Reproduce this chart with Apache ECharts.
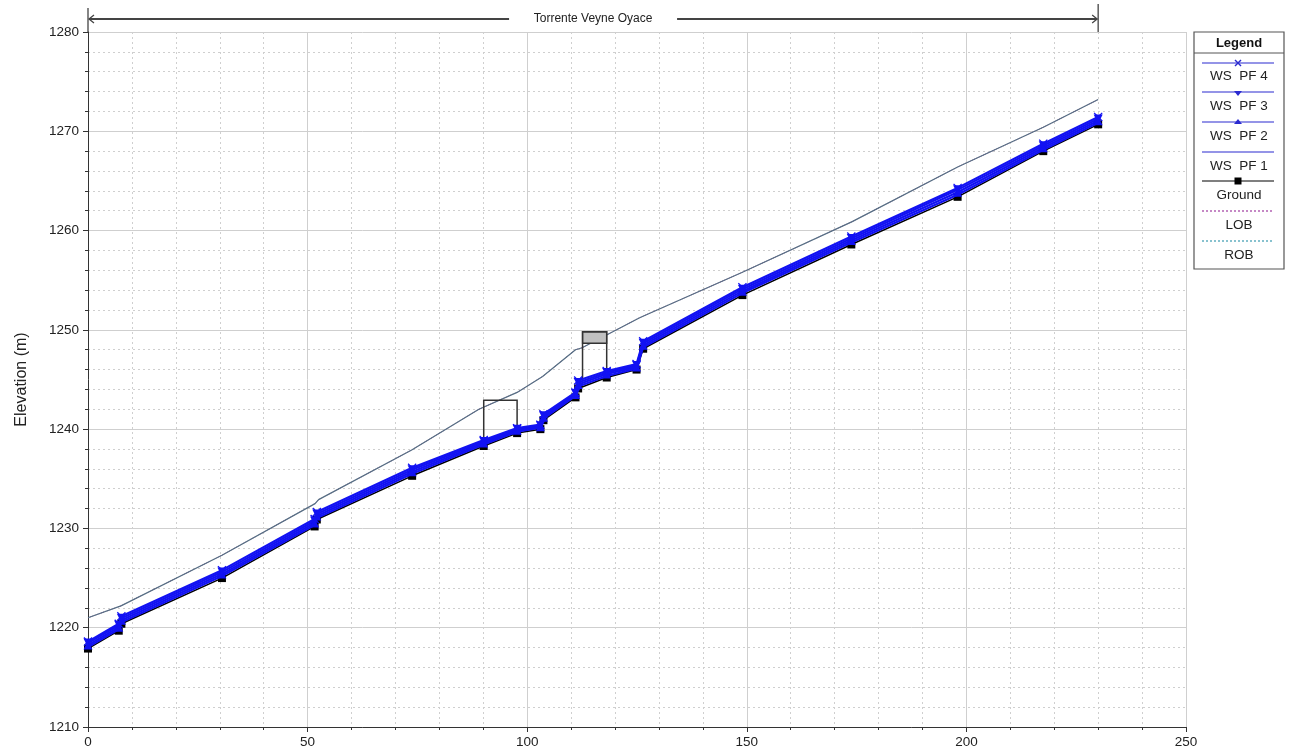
<!DOCTYPE html>
<html>
<head>
<meta charset="utf-8">
<script src="https://cdn.jsdelivr.net/npm/echarts@6/dist/echarts.min.js"></script>
<style>
html,body{margin:0;padding:0;background:#fff;}
#c{width:1290px;height:754px;}
</style>
</head>
<body>
<div id="c"></div>
<script>
// ---- data ----
const stations = [0, 7.0, 7.6, 30.5, 51.6, 52.1, 73.8, 90.1, 97.7, 103.0, 103.7, 111.0, 111.6, 118.1, 124.9, 126.4, 149.0, 173.8, 198.0, 217.5, 230.0];
const ground = [1217.9, 1219.7, 1220.4, 1225.0, 1230.2, 1230.9, 1235.3, 1238.3, 1239.6, 1240.0, 1240.9, 1243.2, 1244.1, 1245.2, 1246.0, 1248.1, 1253.5, 1258.6, 1263.4, 1268.0, 1270.7];
const wsPF1 = [1218.05, 1219.85, 1220.55, 1225.2, 1230.35, 1231.05, 1235.5, 1238.45, 1239.75, 1240.15, 1241.05, 1243.35, 1244.3, 1245.35, 1246.1, 1248.25, 1253.7, 1258.8, 1263.6, 1268.15, 1270.85];
const wsPF2 = [1218.25, 1220.05, 1220.75, 1225.4, 1230.55, 1231.25, 1235.7, 1238.6, 1239.9, 1240.25, 1241.2, 1243.5, 1244.5, 1245.55, 1246.25, 1248.45, 1253.9, 1259.0, 1263.85, 1268.35, 1271.05];
const wsPF3 = [1218.45, 1220.25, 1220.95, 1225.6, 1230.75, 1231.45, 1235.9, 1238.75, 1240.0, 1240.35, 1241.35, 1243.6, 1244.7, 1245.7, 1246.4, 1248.65, 1254.1, 1259.2, 1264.1, 1268.55, 1271.25];
const wsPF4 = [1218.6, 1220.4, 1221.15, 1225.8, 1230.95, 1231.65, 1236.1, 1238.9, 1240.1, 1240.45, 1241.5, 1243.7, 1244.9, 1245.85, 1246.55, 1248.85, 1254.3, 1259.4, 1264.3, 1268.75, 1271.45];
const bankStations = [0, 7.5, 30.5, 51.7, 52.5, 73.7, 89.0, 97.7, 103.5, 111.0, 112.5, 125.5, 126.5, 149.0, 174.0, 198.0, 217.5, 230.0];
const lob = [1221.0, 1222.2, 1227.3, 1232.5, 1232.9, 1237.9, 1242.0, 1243.7, 1245.3, 1248.0, 1248.2, 1251.2, 1251.4, 1255.8, 1260.9, 1266.4, 1270.4, 1273.2];
const rob = [1221.0, 1222.2, 1227.3, 1232.5, 1232.9, 1237.9, 1242.0, 1243.7, 1245.3, 1248.0, 1248.2, 1251.2, 1251.4, 1255.8, 1260.9, 1266.4, 1270.4, 1273.2];
// bridges: [xLeft, xRight, deckTop, deckBottom, groundLeft, groundRight]
const bridges = [
  [90.1, 97.7, 1242.9, 1242.9, 1238.2, 1239.4],
  [112.6, 118.1, 1249.8, 1248.65, 1244.5, 1245.0]
];
const reachName = 'Torrente Veyne Oyace';
const reachStart = 0, reachEnd = 230;
const xTicks = {min: 0, max: 250, interval: 50};
const yTicks = {min: 1210, max: 1280, interval: 10};
const legendNames = ['WS  PF 4', 'WS  PF 3', 'WS  PF 2', 'WS  PF 1', 'Ground', 'LOB', 'ROB'];

const zip = (xs, ys) => xs.map((x, i) => [x, ys[i]]);
const BLUE = '#1212f2';
const CROSS = 'path://M0,1L1,0L5,4L9,0L10,1L6,5L10,9L9,10L5,6L1,10L0,9L4,5Z';
const FONT = 'Liberation Sans';

const chart = echarts.init(document.getElementById('c'), null, {renderer: 'canvas'});

function wsSeries(name, data, symbol, rotate) {
  return {
    name, type: 'line', data: zip(stations, data),
    symbol: symbol || 'none', symbolSize: 9, symbolRotate: rotate || 0, showSymbol: !!symbol,
    lineStyle: {color: BLUE, width: 2.2}, itemStyle: {color: BLUE},
    animation: false, z: 5
  };
}

const option = {
  backgroundColor: '#fff',
  animation: false,
  grid: {left: 88, top: 32, width: 1098, height: 695, containLabel: false},
  xAxis: {
    type: 'value', min: xTicks.min, max: xTicks.max, interval: xTicks.interval,
    axisLine: {show: true, onZero: false, lineStyle: {color: '#333', width: 1}},
    axisTick: {show: true, length: 5, lineStyle: {color: '#333'}},
    minorTick: {show: true, splitNumber: 5, length: 3, lineStyle: {color: '#333'}},
    axisLabel: {color: '#222', fontSize: 13.5, fontFamily: FONT, margin: 8, formatter: v => String(v)},
    splitLine: {show: true, lineStyle: {color: '#cfcfcf', width: 1}},
    minorSplitLine: {show: true, lineStyle: {color: '#cfcfcf', width: 1, type: [2, 3]}}
  },
  yAxis: {
    type: 'value', min: yTicks.min, max: yTicks.max, interval: yTicks.interval,
    name: 'Elevation (m)', nameLocation: 'middle', nameGap: 58,
    nameTextStyle: {color: '#222', fontSize: 16, fontFamily: FONT},
    axisLine: {show: true, onZero: false, lineStyle: {color: '#333', width: 1}},
    axisTick: {show: true, length: 5, lineStyle: {color: '#333'}},
    minorTick: {show: true, splitNumber: 5, length: 3, lineStyle: {color: '#333'}},
    axisLabel: {color: '#222', fontSize: 13.5, fontFamily: FONT, margin: 9, formatter: v => String(v)},
    splitLine: {show: true, lineStyle: {color: '#cfcfcf', width: 1}},
    minorSplitLine: {show: true, lineStyle: {color: '#cfcfcf', width: 1, type: [2, 3]}}
  },
  series: [
    {
      name: 'LOB', type: 'line', data: zip(bankStations, lob), symbol: 'none',
      lineStyle: {color: '#8a3a8a', width: 1, type: 'dotted'}, z: 3
    },
    {
      name: 'ROB', type: 'line', data: zip(bankStations, rob), symbol: 'none',
      lineStyle: {color: '#566f84', width: 1.2}, z: 3
    },
    {
      name: 'Bridges', type: 'custom', data: bridges, z: 4,
      renderItem: function (params, api) {
        const xl = api.value(0), xr = api.value(1), top = api.value(2), bot = api.value(3), gl = api.value(4), gr = api.value(5);
        const pTL = api.coord([xl, top]), pTR = api.coord([xr, top]);
        const pBL = api.coord([xl, bot]);
        const pGL = api.coord([xl, gl]), pGR = api.coord([xr, gr]);
        const children = [];
        if (Math.abs(pBL[1] - pTL[1]) > 0.5) {
          children.push({type: 'rect', shape: {x: pTL[0], y: pTL[1], width: pTR[0] - pTL[0], height: pBL[1] - pTL[1]},
            style: {fill: '#c0c0c0', stroke: '#333', lineWidth: 1.3}});
        }
        children.push({type: 'polyline', shape: {points: [pGL, pTL, pTR, pGR]}, style: {fill: null, stroke: '#333', lineWidth: 1.5}});
        return {type: 'group', children};
      }
    },
    {
      name: 'Ground', type: 'line', data: zip(stations, ground),
      symbol: 'rect', symbolSize: 8, lineStyle: {color: '#000', width: 1.5}, itemStyle: {color: '#000'}, z: 4
    },
    wsSeries('WS  PF 1', wsPF1, null),
    wsSeries('WS  PF 2', wsPF2, 'triangle', 0),
    wsSeries('WS  PF 3', wsPF3, 'triangle', 180),
    wsSeries('WS  PF 4', wsPF4, CROSS, 0)
  ]
};
chart.setOption(option);

// reach annotation + legend (legend is a static panel)
const px0 = chart.convertToPixel({xAxisIndex: 0}, reachStart);
const px1 = chart.convertToPixel({xAxisIndex: 0}, reachEnd);
const yTop = chart.convertToPixel({yAxisIndex: 0}, yTicks.max);
const ay = 19;
const mid = (px0 + px1) / 2;
const textHalf = 84;
const gray = '#444';
const graphics = [
  {type: 'line', shape: {x1: px0, y1: 8, x2: px0, y2: yTop}, style: {stroke: gray, lineWidth: 1.3}},
  {type: 'line', shape: {x1: px1, y1: 4, x2: px1, y2: yTop}, style: {stroke: gray, lineWidth: 1.3}},
  {type: 'line', shape: {x1: px0 + 1, y1: ay, x2: mid - textHalf, y2: ay}, style: {stroke: gray, lineWidth: 1.8}},
  {type: 'line', shape: {x1: mid + textHalf, y1: ay, x2: px1 - 1, y2: ay}, style: {stroke: gray, lineWidth: 1.8}},
  {type: 'polyline', shape: {points: [[px0 + 6, ay - 4], [px0 + 1, ay], [px0 + 6, ay + 4]]}, style: {fill: null, stroke: gray, lineWidth: 1.3}},
  {type: 'polyline', shape: {points: [[px1 - 6, ay - 4], [px1 - 1, ay], [px1 - 6, ay + 4]]}, style: {fill: null, stroke: gray, lineWidth: 1.3}},
  {type: 'text', x: mid, y: ay, style: {text: reachName, fill: '#222', font: '12px "Liberation Sans"', align: 'center', verticalAlign: 'middle'}}
];

// legend panel
const LX = 1194, LW = 90, LT = 32, LB = 269;
graphics.push({type: 'rect', shape: {x: LX, y: LT, width: LW, height: LB - LT}, style: {fill: '#fff', stroke: '#555', lineWidth: 1.2}});
graphics.push({type: 'text', x: LX + LW / 2, y: 43, style: {text: 'Legend', fill: '#111', font: 'bold 13px "Liberation Sans"', align: 'center', verticalAlign: 'middle'}});
graphics.push({type: 'line', shape: {x1: LX, y1: 53, x2: LX + LW, y2: 53}, style: {stroke: '#555', lineWidth: 1}});
const rowLineY = [63, 92, 122, 152, 181, 211, 241];
const rowTextY = [76, 106, 136, 166, 195, 225, 255];
const rowStyle = [
  {c: '#2a2ad0', dash: null, sym: 'x'},
  {c: '#2a2ad0', dash: null, sym: 'tdown'},
  {c: '#2a2ad0', dash: null, sym: 'tup'},
  {c: '#2a2ad0', dash: null, sym: null},
  {c: '#000', dash: null, sym: 'sq'},
  {c: '#a03aa0', dash: [2, 2], sym: null},
  {c: '#3a9ab0', dash: [2, 2], sym: null}
];
const lx1 = LX + 8, lx2 = LX + 80, lc = (lx1 + lx2) / 2;
legendNames.forEach((n, i) => {
  const y = rowLineY[i], s = rowStyle[i];
  graphics.push({type: 'line', shape: {x1: lx1, y1: y, x2: lx2, y2: y}, style: {stroke: s.c, lineWidth: 1.2, lineDash: s.dash}});
  if (s.sym === 'x') {
    graphics.push({type: 'polyline', shape: {points: [[lc - 3, y - 3], [lc + 3, y + 3]]}, style: {stroke: s.c, lineWidth: 1.4}});
    graphics.push({type: 'polyline', shape: {points: [[lc + 3, y - 3], [lc - 3, y + 3]]}, style: {stroke: s.c, lineWidth: 1.4}});
  } else if (s.sym === 'tdown') {
    graphics.push({type: 'polygon', shape: {points: [[lc - 4, y - 1], [lc + 4, y - 1], [lc, y + 4]]}, style: {fill: s.c}});
  } else if (s.sym === 'tup') {
    graphics.push({type: 'polygon', shape: {points: [[lc - 4, y + 2], [lc + 4, y + 2], [lc, y - 3]]}, style: {fill: s.c}});
  } else if (s.sym === 'sq') {
    graphics.push({type: 'rect', shape: {x: lc - 3.5, y: y - 3.5, width: 7, height: 7}, style: {fill: '#000'}});
  }
  graphics.push({type: 'text', x: LX + LW / 2, y: rowTextY[i], style: {text: n, fill: '#222', font: '13.5px "Liberation Sans"', align: 'center', verticalAlign: 'middle'}});
});
chart.setOption({graphic: graphics.map(g => Object.assign({silent: true}, g))});
</script>
</body>
</html>
